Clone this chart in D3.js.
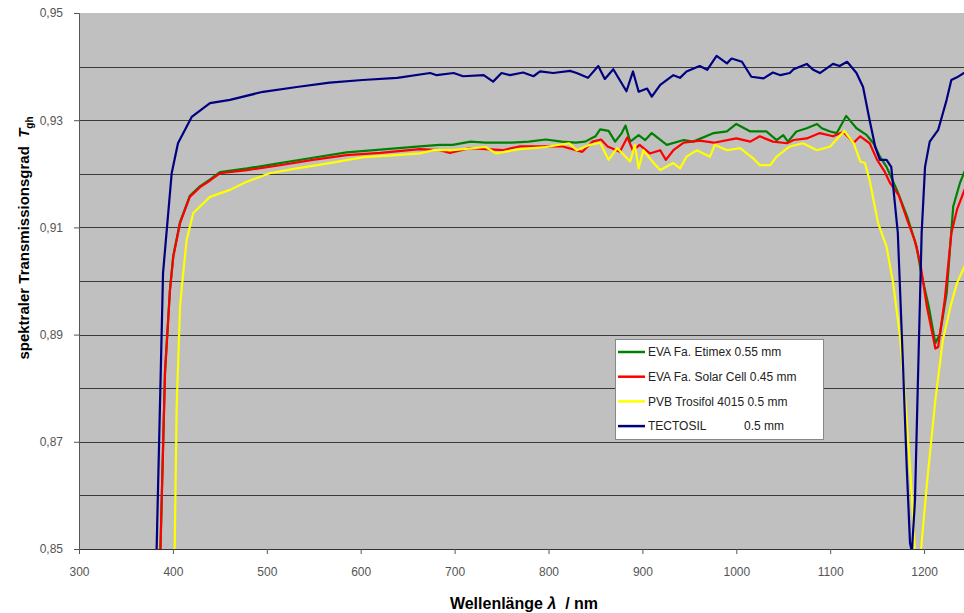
<html>
<head>
<script src="https://d3js.org/d3.v7.min.js"></script>
<style>
  body { margin: 0; background: #fff; }
  svg text { font-family: Arial, "Liberation Sans", sans-serif; }
</style>
</head>
<body>
<script>
// Wellenlänge in nm, Transmissionsgrad
var etimex = [[386,0.845],[391.6,0.8832],[396.9,0.8985],[400.4,0.9047],[407.6,0.911],[418,0.9159],[429,0.9177],[440,0.919],[450,0.9203],[479,0.921],[514,0.922],[549,0.923],[585,0.924],[621,0.9245],[663,0.9251],[684,0.9254],[698,0.9254],[717,0.926],[733,0.9258],[761,0.9258],[779,0.926],[797,0.9264],[814,0.926],[829,0.9258],[839,0.926],[850,0.927],[855,0.9283],[864,0.928],[871,0.926],[878,0.9276],[882,0.929],[887,0.926],[896,0.9272],[903,0.9263],[910,0.9276],[926,0.9254],[944,0.9263],[954,0.926],[976,0.9276],[990,0.9279],[1000,0.9293],[1015,0.9279],[1032,0.9279],[1043,0.9263],[1050,0.9272],[1055,0.926],[1064,0.9279],[1075,0.9285],[1086,0.9293],[1091,0.9285],[1100,0.9279],[1107,0.9276],[1117,0.9308],[1128,0.9285],[1139,0.9272],[1146,0.9257],[1153,0.9232],[1160,0.9213],[1171,0.917],[1182,0.912],[1192,0.9064],[1197,0.9014],[1205,0.8952],[1212,0.8884],[1217,0.8902],[1224,0.8977],[1231,0.9139],[1238,0.9182],[1243,0.9204],[1250,0.922]];

var solarCell = [[386,0.845],[391.6,0.8828],[396.9,0.8983],[400.4,0.9045],[407.6,0.9108],[418,0.9157],[429,0.9175],[440,0.9188],[450,0.9201],[479,0.9207],[514,0.9216],[549,0.9226],[585,0.9235],[621,0.9239],[663,0.9246],[684,0.9244],[695,0.9239],[716,0.9248],[751,0.9244],[769,0.9251],[797,0.9251],[815,0.9251],[836,0.9241],[847,0.926],[856,0.9264],[863,0.9251],[876,0.9241],[884,0.9268],[890,0.9243],[897,0.9254],[908,0.9238],[919,0.9244],[925,0.9226],[933,0.9244],[944,0.9258],[961,0.9262],[976,0.9258],[1000,0.9266],[1015,0.926],[1025,0.927],[1039,0.926],[1054,0.9257],[1061,0.9263],[1075,0.9266],[1089,0.9276],[1103,0.927],[1114,0.9278],[1125,0.9258],[1132,0.927],[1142,0.9257],[1150,0.9226],[1158,0.9204],[1164,0.9182],[1173,0.916],[1182,0.9114],[1190,0.9076],[1196,0.9033],[1203,0.8952],[1212,0.8874],[1215,0.8877],[1222,0.8965],[1229,0.9089],[1235,0.9133],[1243,0.917],[1250,0.919]];

var trosifol = [[401.5,0.845],[404,0.8765],[407.6,0.8952],[411,0.9015],[414.7,0.9077],[421.7,0.9127],[439.5,0.9157],[460.8,0.917],[478.6,0.9185],[503,0.9201],[532,0.921],[567,0.922],[603,0.9231],[638,0.9235],[663,0.9238],[677,0.9244],[698,0.9244],[733,0.925],[744,0.9238],[769,0.9246],[797,0.925],[822,0.9257],[830,0.9244],[844,0.9254],[855,0.9258],[864,0.9226],[873,0.9248],[887,0.9223],[892,0.9254],[896,0.921],[901,0.9244],[912,0.922],[919,0.9207],[933,0.922],[940,0.921],[947,0.9232],[958,0.9244],[972,0.9232],[977,0.9254],[990,0.9244],[1004,0.9248],[1018,0.9229],[1025,0.9216],[1036,0.9216],[1043,0.9232],[1057,0.9251],[1071,0.9257],[1086,0.9244],[1100,0.9251],[1115,0.928],[1125,0.9257],[1132,0.9223],[1137,0.922],[1142,0.9188],[1151,0.9108],[1160,0.9064],[1167,0.8996],[1174,0.8902],[1180,0.8778],[1185,0.8653],[1190,0.8504],[1193.5,0.845],[1197,0.8504],[1203,0.8622],[1212,0.8778],[1220,0.889],[1228,0.8952],[1235,0.8996],[1243,0.9027],[1250,0.905]];

var tectosil = [[382,0.845],[389.5,0.9015],[398.7,0.9201],[405.4,0.9257],[420,0.9306],[439.5,0.9332],[460.8,0.9338],[496,0.9353],[532,0.9362],[567,0.937],[602,0.9375],[639,0.9379],[674,0.9388],[681,0.9384],[699,0.9388],[709,0.9382],[731,0.9384],[741,0.9372],[750,0.9388],[759,0.9384],[773,0.9389],[784,0.9382],[791,0.9391],[805,0.9388],[823,0.9392],[830,0.9388],[842,0.9379],[853,0.9401],[860,0.9377],[869,0.9395],[883,0.9354],[890,0.9391],[896,0.9353],[905,0.9359],[910,0.9344],[919,0.9366],[933,0.9384],[940,0.9379],[947,0.9391],[961,0.9401],[969,0.9394],[979,0.942],[990,0.9406],[995,0.9415],[1006,0.9409],[1016,0.9381],[1029,0.9378],[1039,0.9389],[1047,0.9384],[1057,0.9388],[1061,0.9395],[1075,0.9405],[1082,0.9394],[1089,0.9388],[1103,0.9405],[1110,0.9401],[1118,0.9409],[1128,0.9388],[1135,0.9362],[1142,0.93],[1148,0.925],[1153,0.9226],[1160,0.9226],[1165,0.9213],[1172,0.909],[1177.6,0.884],[1181.5,0.8653],[1185,0.8511],[1187,0.8495],[1190.3,0.8591],[1193.8,0.884],[1197.4,0.909],[1201,0.9213],[1206,0.926],[1215,0.9282],[1220,0.9313],[1224,0.9338],[1229,0.9375],[1235,0.938],[1242.5,0.9388],[1250,0.939]];

var seriesNames = ["EVA Fa. Etimex 0.55 mm", "EVA Fa. Solar Cell 0.45 mm", "PVB Trosifol 4015 0.5 mm", "TECTOSIL"];
var seriesColors = ["#008000", "#ff0000", "#ffff00", "#000080"];
var xTicks = [300, 400, 500, 600, 700, 800, 900, 1000, 1100, 1200];
var yTicks = [0.85, 0.87, 0.89, 0.91, 0.93, 0.95];
var yGrid = [0.86, 0.87, 0.88, 0.89, 0.90, 0.91, 0.92, 0.93, 0.94];

var width = 964, height = 613;
var plotLeft = 79, plotTop = 13, plotBottom = 549;

var svg = d3.select("body").append("svg")
  .attr("width", width).attr("height", height);

var x = d3.scaleLinear().domain([300, 1300]).range([plotLeft, plotLeft + 939]);
var y = d3.scaleLinear().domain([0.85, 0.95]).range([plotBottom, plotTop]);

// Zeichenfläche
svg.append("rect")
  .attr("x", plotLeft).attr("y", plotTop)
  .attr("width", width - plotLeft).attr("height", plotBottom - plotTop)
  .attr("fill", "#c0c0c0");

svg.append("clipPath").attr("id", "plot")
  .append("rect")
  .attr("x", plotLeft).attr("y", plotTop)
  .attr("width", width - plotLeft).attr("height", plotBottom - plotTop);

// Gitterlinien
svg.append("g").selectAll("line")
  .data(yGrid).enter().append("line")
  .attr("x1", plotLeft).attr("x2", width)
  .attr("y1", function(d) { return Math.round(y(d)) + 0.5; })
  .attr("y2", function(d) { return Math.round(y(d)) + 0.5; })
  .attr("stroke", "#3a3a3a").attr("stroke-width", 1);

// Achsen
var xAxis = svg.append("g")
  .attr("transform", "translate(0," + plotBottom + ")")
  .call(d3.axisBottom(x).tickValues(xTicks).tickSize(5).tickPadding(13)
    .tickFormat(d3.format("d")));
xAxis.select(".domain").attr("stroke", "#333").attr("d", "M" + plotLeft + ",0.5H" + width);
xAxis.selectAll(".tick line").attr("stroke", "#555");
xAxis.selectAll("text").attr("fill", "#555").style("font-size", "12px");

var yAxis = svg.append("g")
  .attr("transform", "translate(" + plotLeft + ",0)")
  .call(d3.axisLeft(y).tickValues(yTicks).tickSize(5).tickPadding(11)
    .tickFormat(function(d) { return d.toFixed(2).replace(".", ","); }));
yAxis.select(".domain").attr("stroke", "#555");
yAxis.selectAll(".tick line").attr("stroke", "#555");
yAxis.selectAll("text").attr("fill", "#555").style("font-size", "12px");

// Kurven
var line = d3.line()
  .x(function(d) { return x(d[0]); })
  .y(function(d) { return y(d[1]); });

var curves = [etimex, solarCell, trosifol, tectosil];
svg.append("g").attr("clip-path", "url(#plot)")
  .selectAll("path")
  .data(curves).enter().append("path")
  .attr("d", line)
  .attr("fill", "none")
  .attr("stroke", function(d, i) { return seriesColors[i]; })
  .attr("stroke-width", 2.2)
  .attr("stroke-linejoin", "round");

// Legende
var legend = svg.append("g");
legend.append("rect")
  .attr("x", 615.5).attr("y", 339.5)
  .attr("width", 208).attr("height", 100)
  .attr("fill", "#fff").attr("stroke", "#888");

var item = legend.selectAll(".item")
  .data(seriesNames).enter().append("g")
  .attr("transform", function(d, i) { return "translate(0," + (352 + i * 24.7) + ")"; });
item.append("line")
  .attr("x1", 618).attr("x2", 645)
  .attr("stroke", function(d, i) { return seriesColors[i]; })
  .attr("stroke-width", 2.5);
item.append("text")
  .attr("x", 648).attr("dy", "0.35em")
  .style("font-size", "12px").attr("fill", "#222")
  .text(function(d) { return d; });
legend.append("text")
  .attr("x", 744).attr("y", 352 + 3 * 24.7).attr("dy", "0.35em")
  .style("font-size", "12px").attr("fill", "#222")
  .text("0.5 mm");

// Achsentitel
var xt = svg.append("text")
  .attr("x", 524).attr("y", 609)
  .attr("text-anchor", "middle")
  .style("font-size", "16px").style("font-weight", "bold").attr("fill", "#000");
xt.append("tspan").text("Wellenlänge ");
xt.append("tspan").style("font-style", "italic").text("λ");
xt.append("tspan").text("  / nm").attr("xml:space", "preserve");

var yt = svg.append("text")
  .attr("transform", "translate(29,238) rotate(-90)")
  .attr("text-anchor", "middle")
  .style("font-size", "15px").style("font-weight", "bold").attr("fill", "#000");
yt.append("tspan").text("spektraler Transmissionsgrad  ").attr("xml:space", "preserve");
yt.append("tspan").style("font-style", "italic").text("T");
yt.append("tspan").attr("dy", "4").style("font-size", "10px").text("gh");
</script>
</body>
</html>
